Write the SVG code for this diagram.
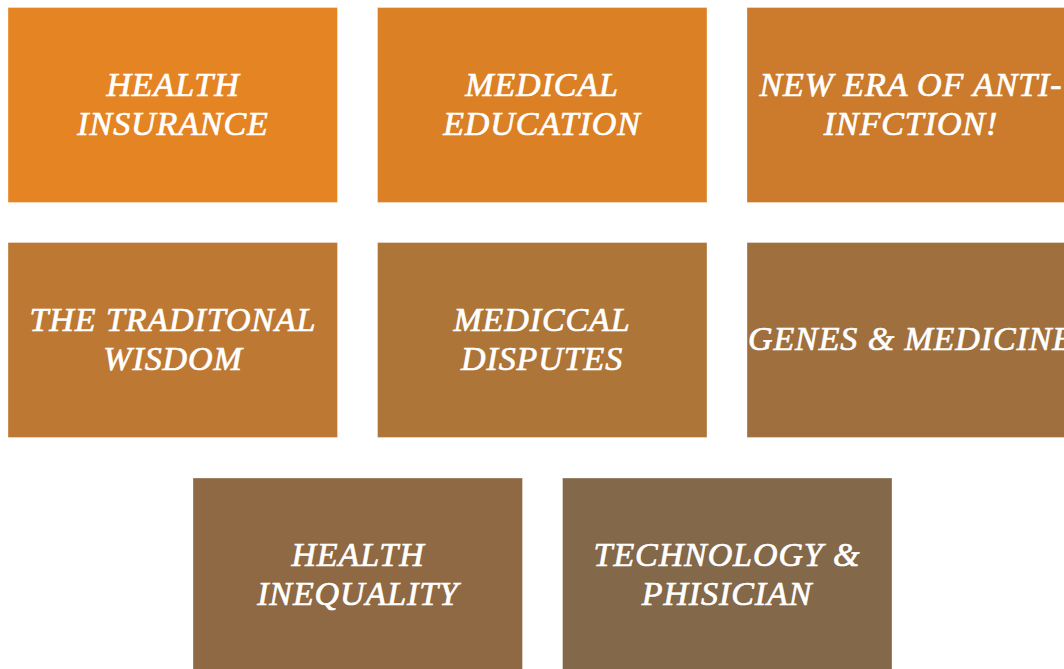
<svg xmlns="http://www.w3.org/2000/svg" width="1064" height="669" viewBox="0 0 1064 669">
<style>
.box{stroke:#ffffff;stroke-opacity:0.35;stroke-width:1}
.lbl{font-family:"Liberation Serif","Times New Roman",serif;font-style:italic;font-size:34px;letter-spacing:0.9px;fill:#ffffff;stroke:#ffffff;stroke-width:0.7;text-anchor:middle}
</style>
<rect width="1064" height="669" fill="#ffffff"/>
<g id="n1"><rect class="box" x="8" y="7.5" width="329.5" height="195" fill="#E58423"/><text class="lbl" x="173" y="96">HEALTH</text><text class="lbl" x="173" y="134.5">INSURANCE</text></g>
<g id="n2"><rect class="box" x="377.5" y="7.5" width="329.5" height="195" fill="#DB8024"/><text class="lbl" x="542" y="96">MEDICAL</text><text class="lbl" x="542" y="134.5">EDUCATION</text></g>
<g id="n3"><rect class="box" x="747" y="7.5" width="329.5" height="195" fill="#CB7B2B"/><text class="lbl" x="911" y="96">NEW ERA OF ANTI-</text><text class="lbl" x="911" y="134.5">INFCTION!</text></g>
<g id="n4"><rect class="box" x="8" y="242.5" width="329.5" height="195" fill="#BD7934"/><text class="lbl" x="173" y="331">THE TRADITONAL</text><text class="lbl" x="173" y="369.5">WISDOM</text></g>
<g id="n5"><rect class="box" x="377.5" y="242.5" width="329.5" height="195" fill="#AE7538"/><text class="lbl" x="542" y="331">MEDICCAL</text><text class="lbl" x="542" y="369.5">DISPUTES</text></g>
<g id="n6"><rect class="box" x="747" y="242.5" width="329.5" height="195" fill="#9F703D"/><text class="lbl" x="911" y="350">GENES &amp; MEDICINE</text></g>
<g id="n7"><rect class="box" x="193" y="478" width="329.5" height="200" fill="#8F6943"/><text class="lbl" x="358" y="566">HEALTH</text><text class="lbl" x="358" y="604.5">INEQUALITY</text></g>
<g id="n8"><rect class="box" x="562.5" y="478" width="329.5" height="200" fill="#836849"/><text class="lbl" x="727" y="566">TECHNOLOGY &amp;</text><text class="lbl" x="727" y="604.5">PHISICIAN</text></g>
<g id="connectors"></g>
</svg>
